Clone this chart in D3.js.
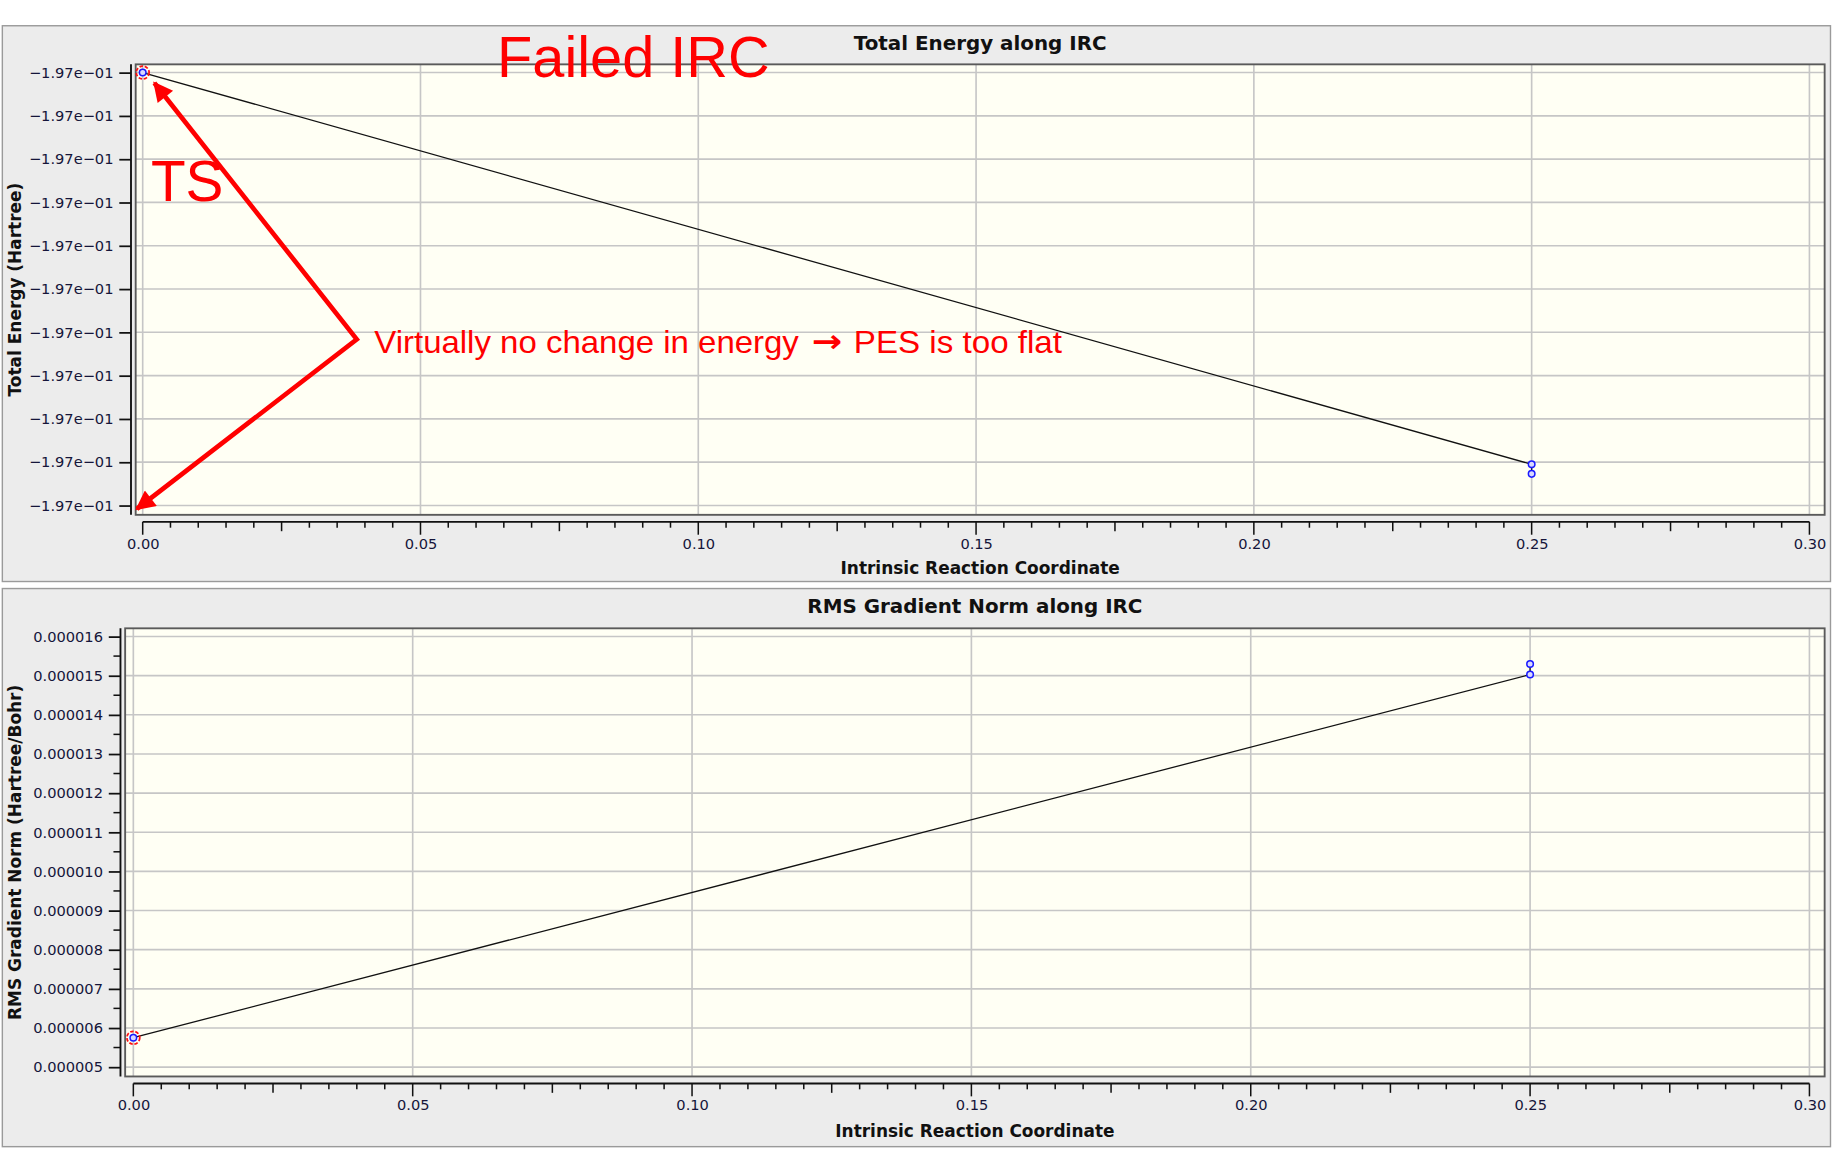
<!DOCTYPE html>
<html>
<head>
<meta charset="utf-8">
<script src="https://cdn.jsdelivr.net/npm/d3@7"></script>
<style>
  html, body { margin: 0; padding: 0; background: #ffffff; }
  svg { display: block; }
</style>
</head>
<body>
<div id="chart"></div>
<script>
// IRC points (x = intrinsic reaction coordinate)
const ircCoord = [0.0, 0.25, 0.25];
const totalEnergy = [-0.19700000, -0.197000905, -0.197000927];
const rmsGradient = [0.00000575, 0.00001503, 0.0000153];

// tick values
const xTicks = [0.00, 0.05, 0.10, 0.15, 0.20, 0.25, 0.30];
const energyTicks = [-0.1970000, -0.1970001, -0.1970002, -0.1970003, -0.1970004, -0.1970005,
                     -0.1970006, -0.1970007, -0.1970008, -0.1970009, -0.1970010];
const gradTicks = [0.000016, 0.000015, 0.000014, 0.000013, 0.000012, 0.000011,
                   0.000010, 0.000009, 0.000008, 0.000007, 0.000006, 0.000005];

// drawing is done in a 1568 x 982 space, then stretched to the window
const W = 1568, H = 982;
const svg = d3.select("#chart").append("svg")
  .attr("width", 1834).attr("height", 1149)
  .attr("viewBox", `0 0 ${W} ${H}`)
  .attr("preserveAspectRatio", "none");

const defs = svg.append("defs");
defs.append("marker")
  .attr("id", "redhead")
  .attr("viewBox", "0 0 10 10")
  .attr("refX", 9).attr("refY", 5)
  .attr("markerWidth", 5).attr("markerHeight", 4.2)
  .attr("markerUnits", "strokeWidth")
  .attr("orient", "auto-start-reverse")
  .append("path").attr("d", "M0,0 L10,5 L0,10 Z").attr("fill", "#ff0000");

const labelCol = "#15153a";
// -1.97e-01 style, with real minus signs
const fmtEnergy = v => {
  const s = d3.format(".2e")(v).replace(/[−-]/g, "-");
  return s.replace(/e([+-])(\d)$/, "e$10$2").replace(/-/g, "\u2212");
};
const fmtGrad = v => v.toFixed(6);

function drawPanel(p) {
  const g = svg.append("g");
  // panel background
  g.append("rect").attr("x", p.px).attr("y", p.py).attr("width", p.pw).attr("height", p.ph)
    .attr("fill", "#ececec").attr("stroke", "#9a9a9a").attr("stroke-width", 1.2);

  const x = d3.scaleLinear().domain([0, 0.30]).range([p.x0, p.x1]);
  const y = d3.scaleLinear().domain(p.yDomain).range([p.y0, p.y1]);

  // plot area
  g.append("rect").attr("x", p.left).attr("y", p.top)
    .attr("width", p.right - p.left).attr("height", p.bottom - p.top)
    .attr("fill", "#fffff4");

  // grid
  g.append("g").selectAll("line").data(xTicks).join("line")
    .attr("x1", d => x(d)).attr("x2", d => x(d))
    .attr("y1", p.top).attr("y2", p.bottom)
    .attr("stroke", "#c6c6c6").attr("stroke-width", 1.4);
  g.append("g").selectAll("line").data(p.yTicks).join("line")
    .attr("x1", p.left).attr("x2", p.right)
    .attr("y1", d => y(d)).attr("y2", d => y(d))
    .attr("stroke", "#c6c6c6").attr("stroke-width", 1.4);

  g.append("rect").attr("x", p.left).attr("y", p.top)
    .attr("width", p.right - p.left).attr("height", p.bottom - p.top)
    .attr("fill", "none").attr("stroke", "#5a5a5a").attr("stroke-width", 1.6);

  // x axis (major, mid and minor ticks)
  const xMinor = d3.range(0, 61).map(i => i * 0.005);
  const xa = g.append("g").attr("transform", `translate(0,${p.bottom + 6})`);
  xa.append("line").attr("x1", x(0)).attr("x2", x(0.30)).attr("y1", 0).attr("y2", 0)
    .attr("stroke", "#111").attr("stroke-width", 1.6);
  xa.selectAll("line.t").data(xMinor).join("line").attr("class", "t")
    .attr("x1", d => x(d)).attr("x2", d => x(d)).attr("y1", 0)
    .attr("y2", (d, i) => i % 10 === 0 ? 11 : (i % 5 === 0 ? 8 : 5))
    .attr("stroke", "#111").attr("stroke-width", 1.3);
  xa.append("g").call(d3.axisBottom(x).tickValues(xTicks).tickFormat(d3.format(".2f")).tickSize(0))
    .call(a => a.select(".domain").remove())
    .call(a => a.selectAll("text").attr("dy", 0).attr("y", 23)
      .attr("font-family", "DejaVu Sans").attr("font-size", 12.5).attr("fill", labelCol));

  // y axis
  const ya = g.append("g").attr("transform", `translate(${p.left - 4},0)`);
  ya.append("line").attr("x1", 0).attr("x2", 0).attr("y1", p.top).attr("y2", p.bottom)
    .attr("stroke", "#111").attr("stroke-width", 1.6);
  if (p.yMinor) {
    ya.selectAll("line.m").data(p.yMinor).join("line").attr("class", "m")
      .attr("x1", -6).attr("x2", 0).attr("y1", d => y(d)).attr("y2", d => y(d))
      .attr("stroke", "#111").attr("stroke-width", 1.3);
  }
  ya.append("g").call(d3.axisLeft(y).tickValues(p.yTicks).tickFormat(p.fmt).tickSize(10).tickPadding(5))
    .call(a => a.select(".domain").remove())
    .call(a => a.selectAll("line").attr("stroke", "#111").attr("stroke-width", 1.5))
    .call(a => a.selectAll("text").attr("font-family", "DejaVu Sans").attr("font-size", 12.5)
      .attr("fill", labelCol));

  // titles
  g.append("text").attr("x", (p.left + p.right) / 2).attr("y", p.py + 21)
    .attr("text-anchor", "middle").attr("font-family", "DejaVu Sans").attr("font-weight", "bold")
    .attr("font-size", 17).attr("fill", "#111").text(p.title);
  g.append("text").attr("x", (p.left + p.right) / 2).attr("y", p.xTitleY)
    .attr("text-anchor", "middle").attr("font-family", "DejaVu Sans").attr("font-weight", "bold")
    .attr("font-size", 14.5).attr("fill", "#111").text("Intrinsic Reaction Coordinate");
  g.append("text").attr("transform", `translate(18,${(p.top + p.bottom) / 2}) rotate(-90)`)
    .attr("text-anchor", "middle").attr("font-family", "DejaVu Sans").attr("font-weight", "bold")
    .attr("font-size", 14.5).attr("fill", "#111").text(p.yTitle);

  // series
  const pts = ircCoord.map((c, i) => [c, p.values[i]]);
  g.append("path").datum(pts)
    .attr("d", d3.line().x(d => x(d[0])).y(d => y(d[1])))
    .attr("fill", "none").attr("stroke", "#111").attr("stroke-width", 1.1);
  g.append("g").selectAll("circle").data(pts).join("circle")
    .attr("cx", d => x(d[0])).attr("cy", d => y(d[1])).attr("r", 2.8)
    .attr("fill", "#d8d8ff").attr("stroke", "#1a1aff").attr("stroke-width", 1.3);
  g.append("circle").attr("cx", x(pts[0][0])).attr("cy", y(pts[0][1])).attr("r", 5.5)
    .attr("fill", "none").attr("stroke", "#ff1010").attr("stroke-width", 1.5)
    .attr("stroke-dasharray", "3,1.5");

  return { x, y };
}

const energyPanel = drawPanel({
  px: 2, py: 22, pw: 1563, ph: 475,
  left: 116, right: 1560, top: 55, bottom: 440,
  x0: 122, x1: 1547,
  yDomain: [-0.1970010, -0.1970000], y0: 432, y1: 62,
  yTicks: energyTicks, fmt: fmtEnergy,
  title: "Total Energy along IRC", yTitle: "Total Energy (Hartree)",
  xTitleY: 491, values: totalEnergy
});

const gradPanel = drawPanel({
  px: 2, py: 503, pw: 1563, ph: 477,
  left: 107, right: 1560, top: 537, bottom: 920,
  x0: 114, x1: 1547,
  yDomain: [0.000005, 0.000016], y0: 912, y1: 544,
  yTicks: gradTicks, yMinor: d3.range(0, 11).map(i => 0.0000055 + i * 0.000001), fmt: fmtGrad,
  title: "RMS Gradient Norm along IRC", yTitle: "RMS Gradient Norm (Hartree/Bohr)",
  xTitleY: 972, values: rmsGradient
});

// annotations
const ann = svg.append("g").attr("fill", "#ff0000").attr("font-family", "Liberation Sans, Arial, sans-serif");
ann.append("text").attr("x", 425).attr("y", 66).attr("font-size", 49)
  .attr("textLength", 233).attr("lengthAdjust", "spacingAndGlyphs").text("Failed IRC");
ann.append("text").attr("x", 129).attr("y", 172).attr("font-size", 49)
  .attr("textLength", 62).attr("lengthAdjust", "spacingAndGlyphs").text("TS");
ann.append("text").attr("x", 320).attr("y", 302).attr("font-size", 27)
  .attr("textLength", 363).attr("lengthAdjust", "spacingAndGlyphs")
  .text("Virtually no change in energy");
ann.append("text").attr("x", 694).attr("y", 301).attr("font-size", 27)
  .attr("font-family", "DejaVu Sans").attr("font-weight", "bold")
  .attr("textLength", 26).attr("lengthAdjust", "spacingAndGlyphs").text("\u2192");
ann.append("text").attr("x", 730).attr("y", 302).attr("font-size", 27)
  .attr("textLength", 178).attr("lengthAdjust", "spacingAndGlyphs")
  .text("PES is too flat");

const tsX = energyPanel.x(ircCoord[0]), tsY = energyPanel.y(totalEnergy[0]);
const vertex = [305, 290];
svg.append("path")
  .attr("d", `M${tsX + 10},${tsY + 9} L${vertex[0]},${vertex[1]} L${tsX - 5},${energyPanel.y(-0.1970010) + 3}`)
  .attr("fill", "none").attr("stroke", "#ff0000").attr("stroke-width", 4)
  .attr("stroke-linejoin", "miter")
  .attr("marker-start", "url(#redhead)").attr("marker-end", "url(#redhead)");
</script>
</body>
</html>
